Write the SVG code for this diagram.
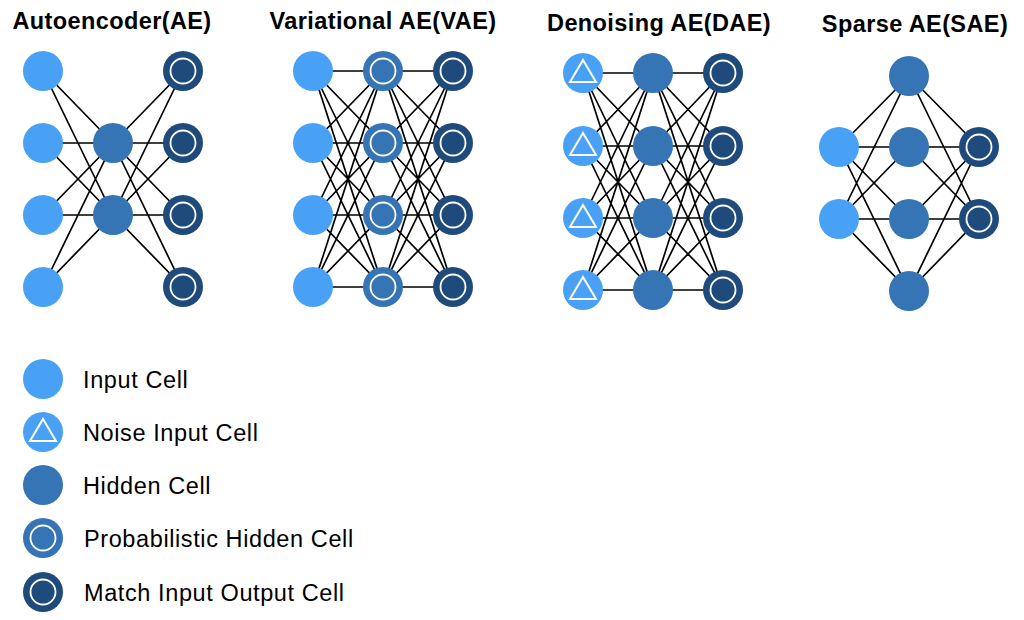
<svg xmlns="http://www.w3.org/2000/svg" width="1024" height="620" viewBox="0 0 1024 620">
<style>
.in{fill:#49a1f6}
.hid{fill:#3574b5}
.out{fill:#1f4a7c}
.ring{fill:none;stroke:#fff;stroke-width:1.8}
.tri{fill:none;stroke:#fff;stroke-width:2;stroke-linejoin:miter}
.edge{fill:none;stroke:#000;stroke-width:1.7}
.title{font-family:"Liberation Sans",Arial,sans-serif;font-weight:bold;font-size:23.5px;letter-spacing:0.4px;fill:#000;text-anchor:middle}
.lab{font-family:"Liberation Sans",Arial,sans-serif;font-size:23.5px;letter-spacing:0.6px;fill:#000}
</style>
<rect width="1024" height="620" fill="#fff"/>

<g id="titles">
<text class="title" x="112" y="29">Autoencoder(AE)</text>
<text class="title" x="383" y="29">Variational AE(VAE)</text>
<text class="title" x="659" y="31">Denoising AE(DAE)</text>
<text class="title" x="915" y="32">Sparse AE(SAE)</text>
</g>

<g id="connectors">
<path class="edge" d="M43 71L113 143M43 71L113 215M43 143L113 143M43 143L113 215M43 215L113 143M43 215L113 215M43 287L113 143M43 287L113 215M113 143L183 71M113 143L183 143M113 143L183 215M113 143L183 287M113 215L183 71M113 215L183 143M113 215L183 215M113 215L183 287"/>
<path class="edge" d="M313 71L383 71M313 71L383 143M313 71L383 215M313 71L383 287M313 143L383 71M313 143L383 143M313 143L383 215M313 143L383 287M313 215L383 71M313 215L383 143M313 215L383 215M313 215L383 287M313 287L383 71M313 287L383 143M313 287L383 215M313 287L383 287M383 71L453 71M383 71L453 143M383 71L453 215M383 71L453 287M383 143L453 71M383 143L453 143M383 143L453 215M383 143L453 287M383 215L453 71M383 215L453 143M383 215L453 215M383 215L453 287M383 287L453 71M383 287L453 143M383 287L453 215M383 287L453 287"/>
<path class="edge" d="M583 73L653 73M583 73L653 146M583 73L653 218M583 73L653 290M583 146L653 73M583 146L653 146M583 146L653 218M583 146L653 290M583 218L653 73M583 218L653 146M583 218L653 218M583 218L653 290M583 290L653 73M583 290L653 146M583 290L653 218M583 290L653 290M653 73L723 73M653 73L723 146M653 73L723 218M653 73L723 290M653 146L723 73M653 146L723 146M653 146L723 218M653 146L723 290M653 218L723 73M653 218L723 146M653 218L723 218M653 218L723 290M653 290L723 73M653 290L723 146M653 290L723 218M653 290L723 290"/>
<path class="edge" d="M839 147L909 76M839 147L909 147M839 147L909 219M839 147L909 291M839 219L909 76M839 219L909 147M839 219L909 219M839 219L909 291M909 76L979 147M909 76L979 219M909 147L979 147M909 147L979 219M909 219L979 147M909 219L979 219M909 291L979 147M909 291L979 219"/>
</g>

<!-- AE -->
<g id="ae-in1"><circle class="in" cx="43" cy="71" r="20"/></g>
<g id="ae-in2"><circle class="in" cx="43" cy="143" r="20"/></g>
<g id="ae-in3"><circle class="in" cx="43" cy="215" r="20"/></g>
<g id="ae-in4"><circle class="in" cx="43" cy="287" r="20"/></g>
<g id="ae-h1"><circle class="hid" cx="113" cy="143" r="20"/></g>
<g id="ae-h2"><circle class="hid" cx="113" cy="215" r="20"/></g>
<g id="ae-out1"><circle class="out" cx="183" cy="71" r="20"/><circle class="ring" cx="183" cy="71" r="12.5"/></g>
<g id="ae-out2"><circle class="out" cx="183" cy="143" r="20"/><circle class="ring" cx="183" cy="143" r="12.5"/></g>
<g id="ae-out3"><circle class="out" cx="183" cy="215" r="20"/><circle class="ring" cx="183" cy="215" r="12.5"/></g>
<g id="ae-out4"><circle class="out" cx="183" cy="287" r="20"/><circle class="ring" cx="183" cy="287" r="12.5"/></g>

<!-- VAE -->
<g id="vae-in1"><circle class="in" cx="313" cy="71" r="20"/></g>
<g id="vae-in2"><circle class="in" cx="313" cy="143" r="20"/></g>
<g id="vae-in3"><circle class="in" cx="313" cy="215" r="20"/></g>
<g id="vae-in4"><circle class="in" cx="313" cy="287" r="20"/></g>
<g id="vae-h1"><circle class="hid" cx="383" cy="71" r="20"/><circle class="ring" cx="383" cy="71" r="12.5"/></g>
<g id="vae-h2"><circle class="hid" cx="383" cy="143" r="20"/><circle class="ring" cx="383" cy="143" r="12.5"/></g>
<g id="vae-h3"><circle class="hid" cx="383" cy="215" r="20"/><circle class="ring" cx="383" cy="215" r="12.5"/></g>
<g id="vae-h4"><circle class="hid" cx="383" cy="287" r="20"/><circle class="ring" cx="383" cy="287" r="12.5"/></g>
<g id="vae-out1"><circle class="out" cx="453" cy="71" r="20"/><circle class="ring" cx="453" cy="71" r="12.5"/></g>
<g id="vae-out2"><circle class="out" cx="453" cy="143" r="20"/><circle class="ring" cx="453" cy="143" r="12.5"/></g>
<g id="vae-out3"><circle class="out" cx="453" cy="215" r="20"/><circle class="ring" cx="453" cy="215" r="12.5"/></g>
<g id="vae-out4"><circle class="out" cx="453" cy="287" r="20"/><circle class="ring" cx="453" cy="287" r="12.5"/></g>

<!-- DAE -->
<g id="dae-in1"><circle class="in" cx="583" cy="73" r="20"/><path class="tri" d="M583 60L596 82H570Z"/></g>
<g id="dae-in2"><circle class="in" cx="583" cy="146" r="20"/><path class="tri" d="M583 133L596 155H570Z"/></g>
<g id="dae-in3"><circle class="in" cx="583" cy="218" r="20"/><path class="tri" d="M583 205L596 227H570Z"/></g>
<g id="dae-in4"><circle class="in" cx="583" cy="290" r="20"/><path class="tri" d="M583 277L596 299H570Z"/></g>
<g id="dae-h1"><circle class="hid" cx="653" cy="73" r="20"/></g>
<g id="dae-h2"><circle class="hid" cx="653" cy="146" r="20"/></g>
<g id="dae-h3"><circle class="hid" cx="653" cy="218" r="20"/></g>
<g id="dae-h4"><circle class="hid" cx="653" cy="290" r="20"/></g>
<g id="dae-out1"><circle class="out" cx="723" cy="73" r="20"/><circle class="ring" cx="723" cy="73" r="12.5"/></g>
<g id="dae-out2"><circle class="out" cx="723" cy="146" r="20"/><circle class="ring" cx="723" cy="146" r="12.5"/></g>
<g id="dae-out3"><circle class="out" cx="723" cy="218" r="20"/><circle class="ring" cx="723" cy="218" r="12.5"/></g>
<g id="dae-out4"><circle class="out" cx="723" cy="290" r="20"/><circle class="ring" cx="723" cy="290" r="12.5"/></g>

<!-- SAE -->
<g id="sae-in1"><circle class="in" cx="839" cy="147" r="20"/></g>
<g id="sae-in2"><circle class="in" cx="839" cy="219" r="20"/></g>
<g id="sae-h1"><circle class="hid" cx="909" cy="76" r="20"/></g>
<g id="sae-h2"><circle class="hid" cx="909" cy="147" r="20"/></g>
<g id="sae-h3"><circle class="hid" cx="909" cy="219" r="20"/></g>
<g id="sae-h4"><circle class="hid" cx="909" cy="291" r="20"/></g>
<g id="sae-out1"><circle class="out" cx="979" cy="147" r="20"/><circle class="ring" cx="979" cy="147" r="12.5"/></g>
<g id="sae-out2"><circle class="out" cx="979" cy="219" r="20"/><circle class="ring" cx="979" cy="219" r="12.5"/></g>

<!-- Legend -->
<g id="legend-input"><circle class="in" cx="43" cy="379" r="20"/><text class="lab" x="83" y="388">Input Cell</text></g>
<g id="legend-noise"><circle class="in" cx="43" cy="432" r="20"/><path class="tri" d="M43 419L56 441H30Z"/><text class="lab" x="83" y="441">Noise Input Cell</text></g>
<g id="legend-hidden"><circle class="hid" cx="43" cy="485" r="20"/><text class="lab" x="83" y="494">Hidden Cell</text></g>
<g id="legend-prob"><circle class="hid" cx="43" cy="538" r="20"/><circle class="ring" cx="43" cy="538" r="12.5"/><text class="lab" x="84" y="547">Probabilistic Hidden Cell</text></g>
<g id="legend-match"><circle class="out" cx="43" cy="592" r="20"/><circle class="ring" cx="43" cy="592" r="12.5"/><text class="lab" x="84" y="601">Match Input Output Cell</text></g>
</svg>
